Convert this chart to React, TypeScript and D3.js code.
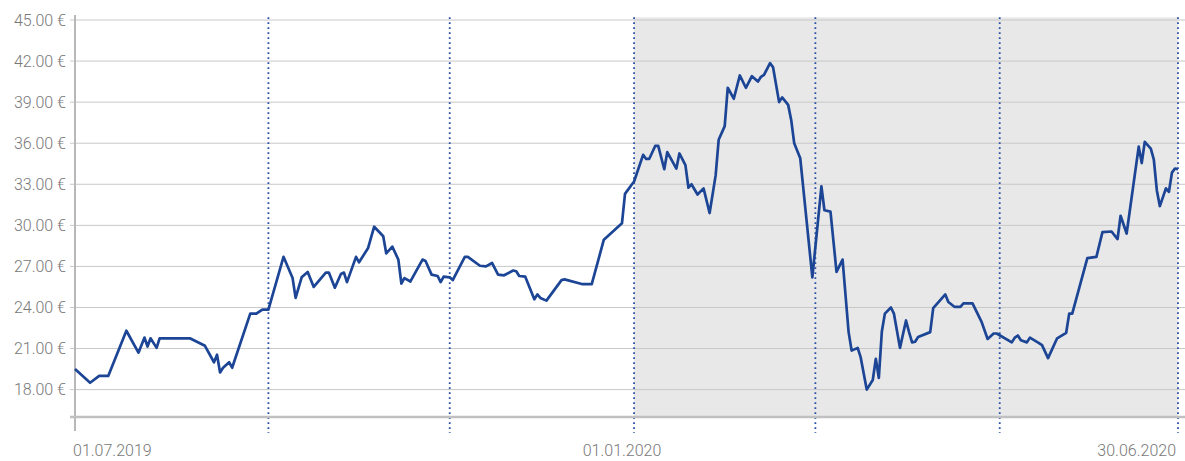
import * as d3 from "d3"

// price series
const dates = [
  "2019-07-01", "2019-07-06", "2019-07-09", "2019-07-12", "2019-07-18", "2019-07-22", "2019-07-24", "2019-07-25",
  "2019-07-26", "2019-07-28", "2019-07-29", "2019-08-08", "2019-08-13", "2019-08-16", "2019-08-17", "2019-08-18",
  "2019-08-19", "2019-08-21", "2019-08-22", "2019-08-28", "2019-08-30", "2019-09-01", "2019-09-03", "2019-09-08",
  "2019-09-11", "2019-09-12", "2019-09-14", "2019-09-16", "2019-09-18", "2019-09-22", "2019-09-23", "2019-09-25",
  "2019-09-27", "2019-09-28", "2019-09-29", "2019-10-02", "2019-10-03", "2019-10-06", "2019-10-08", "2019-10-11",
  "2019-10-12", "2019-10-14", "2019-10-16", "2019-10-17", "2019-10-18", "2019-10-20", "2019-10-24", "2019-10-25",
  "2019-10-27", "2019-10-29", "2019-10-30", "2019-10-31", "2019-11-02", "2019-11-03", "2019-11-07", "2019-11-08",
  "2019-11-12", "2019-11-14", "2019-11-16", "2019-11-18", "2019-11-20", "2019-11-23", "2019-11-24", "2019-11-25",
  "2019-11-27", "2019-11-30", "2019-12-01", "2019-12-02", "2019-12-04", "2019-12-09", "2019-12-10", "2019-12-16",
  "2019-12-19", "2019-12-23", "2019-12-29", "2019-12-30", "2020-01-02", "2020-01-05", "2020-01-06", "2020-01-07",
  "2020-01-09", "2020-01-10", "2020-01-12", "2020-01-13", "2020-01-16", "2020-01-17", "2020-01-19", "2020-01-20",
  "2020-01-21", "2020-01-23", "2020-01-25", "2020-01-27", "2020-01-29", "2020-01-30", "2020-02-01", "2020-02-02",
  "2020-02-04", "2020-02-06", "2020-02-08", "2020-02-10", "2020-02-12", "2020-02-13", "2020-02-14", "2020-02-16",
  "2020-02-17", "2020-02-19", "2020-02-20", "2020-02-22", "2020-02-23", "2020-02-24", "2020-02-26", "2020-03-01",
  "2020-03-04", "2020-03-05", "2020-03-07", "2020-03-09", "2020-03-11", "2020-03-13", "2020-03-14", "2020-03-16",
  "2020-03-17", "2020-03-19", "2020-03-21", "2020-03-22", "2020-03-23", "2020-03-24", "2020-03-25", "2020-03-27",
  "2020-03-28", "2020-03-30", "2020-04-01", "2020-04-02", "2020-04-03", "2020-04-04", "2020-04-05", "2020-04-09",
  "2020-04-10", "2020-04-14", "2020-04-15", "2020-04-17", "2020-04-19", "2020-04-20", "2020-04-23", "2020-04-26",
  "2020-04-28", "2020-04-30", "2020-05-01", "2020-05-06", "2020-05-07", "2020-05-08", "2020-05-09", "2020-05-11",
  "2020-05-12", "2020-05-15", "2020-05-16", "2020-05-18", "2020-05-21", "2020-05-24", "2020-05-25", "2020-05-26",
  "2020-05-31", "2020-06-03", "2020-06-05", "2020-06-08", "2020-06-10", "2020-06-11", "2020-06-13", "2020-06-17",
  "2020-06-18", "2020-06-19", "2020-06-21", "2020-06-22", "2020-06-23", "2020-06-24", "2020-06-26", "2020-06-27",
  "2020-06-28", "2020-06-29", "2020-06-30",
]
const prices = [
  19.5, 18.5, 19.0, 19.0, 22.3, 20.7, 21.8, 21.15,
  21.75, 21.05, 21.75, 21.75, 21.2, 20.0, 20.55, 19.25,
  19.6, 20.0, 19.6, 23.55, 23.55, 23.85, 23.85, 27.7,
  26.15, 24.7, 26.2, 26.6, 25.5, 26.55, 26.55, 25.45,
  26.45, 26.55, 25.85, 27.7, 27.3, 28.35, 29.9, 29.2,
  27.95, 28.45, 27.5, 25.75, 26.15, 25.9, 27.5, 27.4,
  26.4, 26.3, 25.85, 26.25, 26.2, 26.0, 27.7, 27.7,
  27.05, 27.0, 27.25, 26.4, 26.35, 26.7, 26.65, 26.3,
  26.25, 24.6, 24.95, 24.7, 24.5, 26.0, 26.05, 25.7,
  25.7, 28.95, 30.15, 32.3, 33.2, 35.15, 34.85, 34.85,
  35.8, 35.8, 34.1, 35.35, 34.15, 35.25, 34.4, 32.75,
  33.0, 32.25, 32.7, 30.9, 33.65, 36.25, 37.25, 40.05,
  39.25, 40.95, 40.05, 40.9, 40.5, 40.85, 41.0, 41.85,
  41.55, 39.0, 39.35, 38.8, 37.7, 36.0, 34.9, 26.2,
  32.85, 31.1, 31.0, 26.6, 27.5, 22.2, 20.85, 21.05,
  20.35, 18.0, 18.7, 20.25, 18.85, 22.25, 23.55, 24.0,
  23.55, 21.05, 23.05, 22.2, 21.45, 21.5, 21.85, 22.2,
  23.95, 24.95, 24.4, 24.05, 24.05, 24.3, 24.3, 22.95,
  21.7, 22.1, 22.1, 21.45, 21.8, 21.95, 21.6, 21.45,
  21.8, 21.4, 21.25, 20.3, 21.75, 22.15, 23.55, 23.55,
  27.6, 27.7, 29.5, 29.55, 29.0, 30.7, 29.4, 35.75,
  34.55, 36.1, 35.6, 34.8, 32.55, 31.4, 32.7, 32.45,
  33.85, 34.15, 34.1,
]

const yTicks = [18, 21, 24, 27, 30, 33, 36, 39, 42, 45]
const markerDates = ["2019-09-03", "2019-11-02", "2020-01-02", "2020-03-02", "2020-05-02", "2020-06-30"]
const shadeDates = ["2020-01-02", "2020-06-30"]
const labelDates = ["2019-07-01", "2020-01-01", "2020-06-30"]

const W = 1185
const H = 461
const FONT = "Roboto, 'Noto Sans', sans-serif"

export default function App() {
  const parse = d3.timeParse("%Y-%m-%d")
  const fmtDate = d3.timeFormat("%d.%m.%Y")
  const fmtPrice = (v: number) => `${d3.format(".2f")(v)} €`

  const data = dates.map((d, i) => ({ date: parse(d)!, value: prices[i] }))

  const x = d3
    .scaleTime()
    .domain([parse("2019-07-01")!, parse("2020-06-30")!])
    .range([75, 1178])
  const y = d3.scaleLinear().domain([16, 45]).range([417, 20])

  const line = d3
    .line<{ date: Date; value: number }>()
    .x((d) => x(d.date))
    .y((d) => y(d.value))

  const top = y(45.2)
  const bottom = y(16)
  const x0 = x(parse(shadeDates[0])!)
  const x1 = x(parse(shadeDates[1])!)

  const anchors = ["start", "middle", "end"] as const
  const labelShift = [-2, -9, -2]

  return (
    <svg
      width={W}
      height={H}
      style={{ position: "absolute", left: 0, top: 0, background: "#fff" }}
      fontFamily={FONT}
    >
      <rect x={x0} y={top} width={x1 - x0} height={bottom - top} fill="#e8e8e8" />

      {yTicks.map((t) => (
        <g key={t}>
          <line x1={70} x2={W} y1={y(t)} y2={y(t)} stroke="#c8c8c8" strokeWidth={1} />
          <text
            x={66}
            y={y(t)}
            dy="0.36em"
            textAnchor="end"
            fontSize={16}
            fontWeight={300}
            fill="#787878"
          >
            {fmtPrice(t)}
          </text>
        </g>
      ))}

      {markerDates.map((d) => (
        <line
          key={d}
          x1={x(parse(d)!)}
          x2={x(parse(d)!)}
          y1={top}
          y2={433}
          stroke="#2a50a6"
          strokeWidth={1.8}
          strokeDasharray="1.8,3.2"
        />
      ))}

      <line x1={75} x2={75} y1={15} y2={431} stroke="#b8b8b8" strokeWidth={2} />
      <line x1={70} x2={W} y1={bottom} y2={bottom} stroke="#c0c0c0" strokeWidth={2.5} />

      <path d={line(data) ?? ""} fill="none" stroke="#1c4596" strokeWidth={2.7} strokeLinejoin="round" />

      {labelDates.map((d, i) => (
        <text
          key={d}
          x={x(parse(d)!) + labelShift[i]}
          y={456}
          textAnchor={anchors[i]}
          fontSize={16}
          fontWeight={300}
          fill="#787878"
        >
          {fmtDate(parse(d)!)}
        </text>
      ))}
    </svg>
  )
}
